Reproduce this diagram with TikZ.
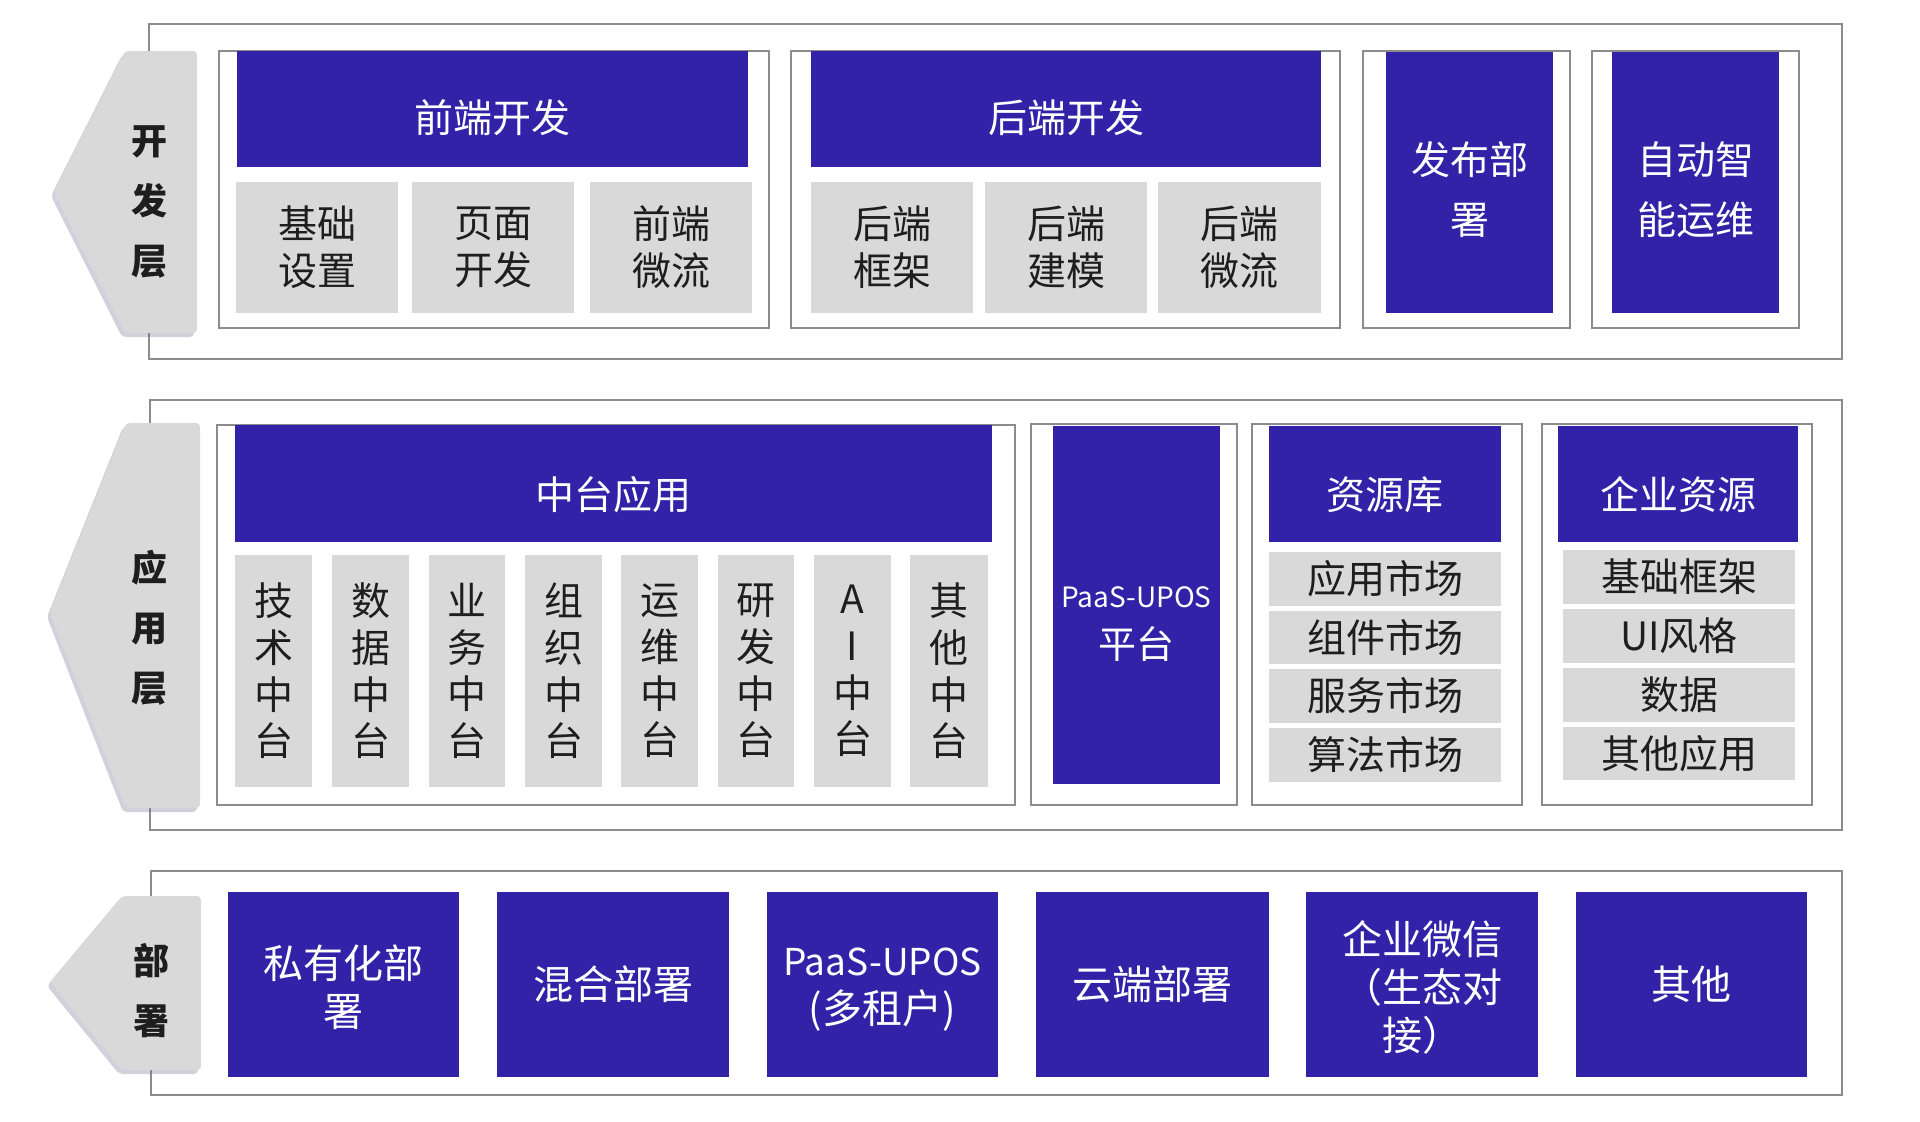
\documentclass[tikz,border=0pt]{standalone}
\usepackage{fontspec}
\setmainfont{Noto Sans CJK SC}
\usetikzlibrary{shadows}
\definecolor{blu}{RGB}{50,34,168}
\definecolor{lgray}{RGB}{217,217,217}
\definecolor{bord}{RGB}{140,140,140}
\definecolor{txt}{RGB}{30,30,30}
\newcommand\bx[7]{\node[#6, minimum width={(#4-#2)*0.5pt}, minimum height={(#5-#3)*0.5pt}] (#1) at ({(#2+#4)/2},{(#3+#5)/2}) {#7};}
\begin{document}
\begin{tikzpicture}[x=0.5pt,y=-0.5pt,
  outerbox/.style={draw=bord, line width=1.2pt, fill=white, inner sep=0pt},
  grp/.style={draw=bord, line width=1pt, fill=white, inner sep=0pt},
  hdr/.style={fill=blu, text=white, inner sep=0pt, align=center, font=\fontsize{19.5}{30}\selectfont},
  htxt/.style={text=white, inner sep=0pt, align=center, font=\fontsize{19.5}{30}\selectfont},
  sub/.style={fill=lgray, text=txt, inner sep=0pt, align=center, font=\fontsize{19.5}{23.5}\selectfont},
  col/.style={fill=lgray, text=txt, inner sep=0pt, align=center, font=\fontsize{19.5}{23.35}\selectfont},
  row/.style={fill=lgray, text=txt, inner sep=0pt, align=center, font=\fontsize{19.5}{23.5}\selectfont},
  dep/.style={fill=blu, text=white, inner sep=0pt, align=center, font=\fontsize{20}{24}\selectfont},
  deptxt/.style={text=white, inner sep=0pt, align=center, font=\fontsize{20}{24}\selectfont},
  tabshape/.style={fill=lgray, rounded corners=2pt, drop shadow={shadow xshift=-1.5pt, shadow yshift=-2pt, fill=blu!30!gray, opacity=0.3}},
  tablbl/.style={text=txt, align=center, font=\fontsize{18}{30}\selectfont\bfseries}
]
\useasboundingbox (0,0) rectangle (1920,1121);

% ---------- Row 1 ----------
\bx{o1}{149}{24}{1842}{359}{outerbox}{}
\path[tabshape] (125,51) -- (197,51) -- (197,333) -- (125,333) -- (54,192) -- cycle;
\node[tablbl] (t1) at (149,202) {开\\发\\层};
\bx{gfe}{219}{51}{769}{328}{grp}{}
\bx{hfe}{237}{51}{748}{167}{hdr}{}
\node[htxt] (hfet) at (492.5,118) {前端开发};
\bx{fe1}{236}{182}{398}{313}{sub}{基础\\设置}
\bx{fe2}{412}{182}{574}{313}{sub}{页面\\开发}
\bx{fe3}{590}{182}{752}{313}{sub}{前端\\微流}
\bx{gbe}{791}{51}{1340}{328}{grp}{}
\bx{hbe}{811}{51}{1321}{167}{hdr}{}
\node[htxt] (hbet) at (1066,118) {后端开发};
\bx{be1}{811}{182}{973}{313}{sub}{后端\\框架}
\bx{be2}{985}{182}{1147}{313}{sub}{后端\\建模}
\bx{be3}{1158}{182}{1321}{313}{sub}{后端\\微流}
\bx{gdp}{1363}{51}{1570}{328}{grp}{}
\bx{hdp}{1386}{52}{1553}{313}{hdr}{}
\node[htxt] (hdpt) at (1469.5,190) {发布部\\署};
\bx{gop}{1592}{51}{1799}{328}{grp}{}
\bx{hop}{1612}{52}{1779}{313}{hdr}{}
\node[htxt] (hopt) at (1695.5,190) {自动智\\能运维};

% ---------- Row 2 ----------
\bx{o2}{150}{400}{1842}{830}{outerbox}{}
\path[tabshape] (126,423) -- (200,423) -- (200,808) -- (126,808) -- (50,613) -- cycle;
\node[tablbl] (t2) at (149,628) {应\\用\\层};
\bx{gmid}{217}{425}{1015}{805}{grp}{}
\bx{hmid}{235}{425}{992}{542}{hdr}{}
\node[htxt] (hmidt) at (613.5,495) {中台应用};
\bx{c1}{235}{555}{312}{787}{col}{技\\术\\中\\台}
\bx{c2}{332}{555}{409}{787}{col}{数\\据\\中\\台}
\bx{c3}{429}{555}{505}{787}{col}{业\\务\\中\\台}
\bx{c4}{525}{555}{602}{787}{col}{组\\织\\中\\台}
\bx{c5}{621}{555}{698}{787}{col}{运\\维\\中\\台}
\bx{c6}{718}{555}{794}{787}{col}{研\\发\\中\\台}
\bx{c7}{814}{555}{891}{787}{col}{A\\I\\中\\台}
\bx{c8}{910}{555}{988}{787}{col}{其\\他\\中\\台}
\bx{gpa}{1031}{424}{1237}{805}{grp}{}
\bx{hpa}{1053}{426}{1220}{784}{hdr}{}
\node[text=white, align=center, inner sep=0pt, font=\fontsize{19}{25.5}\selectfont] (tpa) at (1136.5,624) {{\fontsize{14}{25.5}\selectfont PaaS-UPOS}\\平台};
\bx{gres}{1252}{424}{1522}{805}{grp}{}
\bx{hres}{1269}{426}{1501}{542}{hdr}{}
\node[htxt] (hrest) at (1385,495) {资源库};
\bx{r1}{1269}{552}{1501}{606}{row}{应用市场}
\bx{r2}{1269}{611}{1501}{664}{row}{组件市场}
\bx{r3}{1269}{669}{1501}{723}{row}{服务市场}
\bx{r4}{1269}{728}{1501}{782}{row}{算法市场}
\bx{gent}{1542}{424}{1812}{805}{grp}{}
\bx{hent}{1558}{426}{1798}{542}{hdr}{}
\node[htxt] (hentt) at (1678,495) {企业资源};
\bx{e1}{1563}{550}{1795}{604}{row}{基础框架}
\bx{e2}{1563}{609}{1795}{663}{row}{UI风格}
\bx{e3}{1563}{668}{1795}{722}{row}{数据}
\bx{e4}{1563}{727}{1795}{780}{row}{其他应用}

% ---------- Row 3 ----------
\bx{o3}{151}{871}{1842}{1095}{outerbox}{}
\path[tabshape] (122,896) -- (201,896) -- (201,1070) -- (122,1070) -- (50,982) -- cycle;
\node[tablbl] (t3) at (151,991) {部\\署};
\bx{d1}{228}{892}{459}{1077}{dep}{}
\node[deptxt] (d1t) at (343.5,987.5) {私有化部\\署};
\bx{d2}{497}{892}{729}{1077}{dep}{混合部署}
\bx{d3}{767}{892}{998}{1077}{dep}{}
\node[deptxt] (d3t) at (882.5,990) {{\fontsize{18.5}{24}\selectfont PaaS-UPOS}\\(多租户)};
\bx{d4}{1036}{892}{1269}{1077}{dep}{云端部署}
\bx{d5}{1306}{892}{1538}{1077}{dep}{}
\node[deptxt] (d5t) at (1422,987) {企业微信\\（生态对\\接）};
\bx{d6}{1576}{892}{1807}{1077}{dep}{其他}
\end{tikzpicture}
\end{document}
